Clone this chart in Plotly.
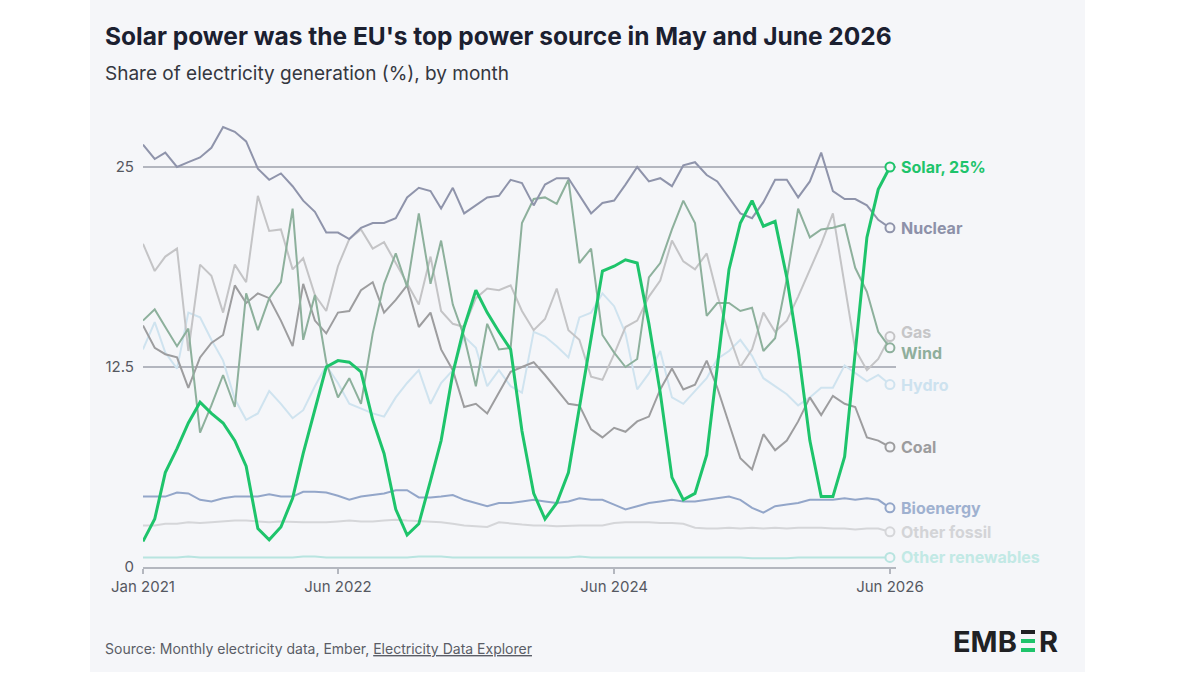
import pandas as pd
import plotly.graph_objects as go

# ---------------- data (share of EU electricity generation, %) ----------------
months = pd.date_range("2021-01-01", periods=66, freq="MS")

solar = [1.6, 3.0, 5.9, 7.4, 9.0, 10.3, 9.6, 9.0, 7.9, 6.3, 2.4, 1.7,
         2.5, 4.3, 7.1, 9.8, 12.5, 12.9, 12.8, 12.2, 9.2, 7.1, 3.6, 2.0,
         2.7, 5.4, 7.9, 12.1, 15.0, 17.3, 15.9, 14.7, 13.6, 8.5, 4.6, 3.0,
         4.0, 5.9, 10.0, 14.2, 18.5, 18.8, 19.2, 19.0, 15.2, 10.9, 5.6, 4.2,
         4.6, 7.0, 12.5, 18.6, 21.5, 22.9, 21.3, 21.6, 18.1, 13.6, 7.9, 4.4,
         4.4, 6.9, 13.4, 20.6, 23.6, 25.0]

nuclear = [26.4, 25.5, 25.9, 25.0, 25.3, 25.6, 26.2, 27.5, 27.2, 26.6, 24.9, 24.2,
           24.6, 23.8, 22.9, 22.2, 20.9, 20.9, 20.5, 21.2, 21.5, 21.5, 21.8, 23.1,
           23.7, 23.5, 22.4, 23.7, 22.1, 22.6, 23.1, 23.2, 24.2, 24.0, 22.6, 23.9,
           24.3, 24.3, 23.25, 22.1, 22.75, 22.9, 23.9, 25.0, 24.1, 24.3, 23.8, 25.1,
           25.3, 24.5, 24.1, 23.1, 22.1, 21.8, 22.8, 24.2, 24.2, 23.1, 24.1, 25.9,
           23.5, 23.0, 23.0, 22.6, 21.7, 21.2]

gas = [20.2, 18.5, 19.4, 19.9, 13.5, 18.9, 18.2, 15.9, 18.9, 17.8, 23.2, 21.0,
       21.1, 18.6, 19.3, 17.0, 16.0, 18.8, 20.5, 21.1, 19.9, 20.3, 19.0, 17.7,
       16.4, 19.4, 16.0, 15.2, 15.0, 16.8, 17.4, 17.3, 17.6, 16.0, 14.8, 15.5,
       17.4, 14.8, 14.2, 11.9, 11.7, 13.3, 15.0, 15.4, 16.9, 17.9, 20.4, 19.1,
       18.6, 19.6, 17.0, 14.5, 12.5, 13.6, 15.9, 14.7, 15.4, 16.9, 18.6, 20.2,
       22.1, 17.7, 13.6, 12.3, 13.0, 14.4]

wind = [15.4, 16.1, 15.0, 13.8, 14.9, 8.4, 10.1, 12.0, 10.0, 17.1, 14.8, 16.8,
        17.8, 22.4, 14.2, 17.0, 12.8, 10.6, 11.8, 10.2, 14.6, 17.7, 19.6, 17.5,
        22.1, 17.7, 20.4, 16.4, 14.4, 11.3, 15.2, 13.6, 13.7, 21.5, 23.0, 23.1,
        22.7, 24.2, 19.0, 19.9, 14.5, 13.4, 12.5, 13.0, 18.1, 19.0, 21.1, 22.9,
        21.5, 15.7, 16.5, 16.5, 16.0, 16.2, 13.5, 14.3, 18.0, 22.4, 20.6, 21.1,
        21.2, 21.4, 18.7, 17.2, 14.7, 13.7]

hydro = [13.6, 15.3, 13.4, 12.4, 15.9, 15.6, 14.2, 12.9, 10.5, 9.2, 9.6, 11.0,
         10.2, 9.3, 9.8, 11.3, 12.6, 11.5, 10.2, 9.9, 9.6, 9.4, 10.6, 11.5,
         12.3, 10.2, 11.5, 12.3, 14.4, 13.7, 11.3, 12.3, 11.3, 10.9, 14.7, 14.4,
         13.8, 13.1, 15.6, 15.9, 17.1, 16.3, 14.6, 11.1, 12.1, 13.5, 10.6, 10.2,
         11.0, 11.8, 13.0, 13.5, 14.2, 13.2, 11.8, 11.3, 10.8, 10.1, 10.6, 11.2,
         11.2, 12.6, 12.1, 11.6, 12.0, 11.4]

coal = [15.1, 13.7, 13.3, 13.1, 11.2, 13.1, 14.0, 14.5, 17.6, 16.5, 17.1, 16.8,
        15.4, 13.8, 17.7, 15.4, 14.6, 15.9, 16.0, 17.3, 17.8, 15.9, 16.7, 17.6,
        15.0, 15.9, 13.6, 12.3, 10.0, 10.2, 9.6, 10.9, 12.2, 12.5, 12.8, 12.0,
        11.1, 10.2, 10.1, 8.6, 8.1, 8.7, 8.45, 9.1, 9.4, 11.1, 12.4, 11.1,
        11.4, 12.9, 11.2, 9.0, 6.8, 6.1, 8.3, 7.3, 7.9, 9.1, 10.6, 9.5,
        10.7, 10.2, 10.0, 8.1, 7.9, 7.5]

bioenergy = [4.4, 4.4, 4.4, 4.65, 4.6, 4.2, 4.1, 4.3, 4.4, 4.4, 4.4, 4.55,
             4.4, 4.4, 4.7, 4.7, 4.65, 4.45, 4.2, 4.4, 4.5, 4.6, 4.8, 4.8,
             4.35, 4.35, 4.4, 4.5, 4.2, 4.0, 3.8, 4.0, 4.0, 4.1, 4.2, 4.1,
             4.0, 4.1, 4.3, 4.2, 4.2, 3.9, 3.6, 3.8, 4.0, 4.1, 4.2, 4.1,
             4.1, 4.2, 4.3, 4.4, 4.2, 3.7, 3.4, 3.8, 3.9, 4.0, 4.2, 4.2,
             4.2, 4.3, 4.2, 4.3, 4.2, 3.7]

other_fossil = [2.6, 2.6, 2.7, 2.7, 2.8, 2.75, 2.8, 2.85, 2.9, 2.9, 2.85, 2.8,
                2.85, 2.8, 2.8, 2.8, 2.8, 2.85, 2.9, 2.85, 2.85, 2.9, 2.95, 2.9,
                2.85, 2.8, 2.8, 2.7, 2.6, 2.55, 2.5, 2.8, 2.7, 2.65, 2.6, 2.6,
                2.55, 2.6, 2.6, 2.6, 2.6, 2.75, 2.8, 2.8, 2.8, 2.75, 2.75, 2.7,
                2.45, 2.4, 2.4, 2.45, 2.4, 2.45, 2.4, 2.45, 2.4, 2.45, 2.45, 2.45,
                2.4, 2.4, 2.35, 2.4, 2.4, 2.2]

other_renewables = [0.6, 0.6, 0.6, 0.6, 0.65, 0.6, 0.6, 0.6, 0.6, 0.6, 0.6, 0.6,
                    0.6, 0.6, 0.65, 0.65, 0.6, 0.6, 0.6, 0.6, 0.6, 0.6, 0.6, 0.6,
                    0.65, 0.65, 0.65, 0.6, 0.6, 0.6, 0.6, 0.6, 0.6, 0.6, 0.6, 0.6,
                    0.6, 0.6, 0.65, 0.6, 0.6, 0.6, 0.6, 0.6, 0.6, 0.6, 0.6, 0.6,
                    0.6, 0.6, 0.6, 0.6, 0.6, 0.55, 0.55, 0.55, 0.55, 0.6, 0.6, 0.6,
                    0.6, 0.6, 0.6, 0.6, 0.6, 0.6]

tick_dates = ["2021-01-01", "2022-06-01", "2024-06-01", "2026-06-01"]
tick_labels = ["Jan 2021", "Jun 2022", "Jun 2024", "Jun 2026"]
y_ticks = [0, 12.5, 25]
y_tick_labels = ["0", "12.5", "25"]

# series: (name, values, line colour, label colour, width, label text, label nudge)
series = [
    ("Other renewables", other_renewables, "#b8e4e0", "#c2e9e5", 2, "Other renewables", 0),
    ("Other fossil", other_fossil, "#d5d6d9", "#d3d4d7", 2, "Other fossil", 0),
    ("Bioenergy", bioenergy, "#93a6c9", "#9fb1d0", 2, "Bioenergy", 0),
    ("Hydro", hydro, "#cfe3ef", "#cde2ef", 2, "Hydro", 0),
    ("Gas", gas, "#c4c4c6", "#c6c6c8", 2, "Gas", 0.3),
    ("Coal", coal, "#9d9d9f", "#9c9c9e", 2, "Coal", 0),
    ("Wind", wind, "#8db09c", "#8fae9c", 2, "Wind", -0.3),
    ("Nuclear", nuclear, "#8f94ab", "#8d91a9", 2, "Nuclear", 0),
    ("Solar", solar, "#1ec46b", "#1ec46b", 3, "Solar, 25%", 0),
]

BG = "#f5f6f9"
FONT = "Inter"

# plot area in pixels
L, R, T, B = 143, 896, 119, 567


def pxx(px):
    return (px - L) / (R - L)


def pxy(py):
    return (B - py) / (B - T)


fig = go.Figure()

for name, vals, col, lcol, w, label, nudge in series:
    fig.add_trace(go.Scatter(
        x=months, y=vals, mode="lines", name=name,
        line=dict(color=col, width=w), hoverinfo="skip", showlegend=False))

for name, vals, col, lcol, w, label, nudge in series:
    fig.add_trace(go.Scatter(
        x=[months[-1]], y=[vals[-1]], mode="markers", showlegend=False,
        marker=dict(symbol="circle", size=9, color=BG,
                    line=dict(color=col, width=2)),
        hoverinfo="skip", cliponaxis=False))
    fig.add_annotation(
        x=months[-1], y=vals[-1] + nudge, xref="x", yref="y",
        text=f"<b>{label}</b>", showarrow=False, xanchor="left",
        yanchor="middle", xshift=9,
        font=dict(family=FONT, size=16, color=lcol))

# panel background
fig.add_shape(type="rect", xref="paper", yref="paper",
              x0=pxx(90), x1=pxx(1085), y0=pxy(672), y1=pxy(0),
              fillcolor=BG, line=dict(width=0), layer="below")

# titles
fig.add_annotation(xref="paper", yref="paper", x=pxx(103), y=pxy(36),
                   xanchor="left", yanchor="middle", showarrow=False,
                   text="<b>Solar power was the EU's top power source in May and June 2026</b>",
                   font=dict(family=FONT, size=24.5, color="#1b2030"))
fig.add_annotation(xref="paper", yref="paper", x=pxx(103), y=pxy(74),
                   xanchor="left", yanchor="middle", showarrow=False,
                   text="Share of electricity generation (%), by month",
                   font=dict(family=FONT, size=19, color="#34373f"))
fig.add_annotation(xref="paper", yref="paper", x=pxx(103), y=pxy(648),
                   xanchor="left", yanchor="middle", showarrow=False,
                   text="Source: Monthly electricity data, Ember, "
                        "<span style='text-decoration:underline'>Electricity Data Explorer</span>",
                   font=dict(family=FONT, size=14, color="#5a5d66"))

# EMBER logo
fig.add_annotation(xref="paper", yref="paper", x=pxx(951), y=pxy(641),
                   xanchor="left", yanchor="middle", showarrow=False,
                   text="<b>EMB</b>", font=dict(family=FONT, size=29, color="#202124"))
fig.add_annotation(xref="paper", yref="paper", x=pxx(1037), y=pxy(641),
                   xanchor="left", yanchor="middle", showarrow=False,
                   text="<b>R</b>", font=dict(family=FONT, size=29, color="#202124"))
for top, col in [(630, "#202124"), (639, "#1ec46b"), (648, "#1ec46b")]:
    fig.add_shape(type="rect", xref="paper", yref="paper",
                  x0=pxx(1021), x1=pxx(1035), y0=pxy(top + 4), y1=pxy(top),
                  fillcolor=col, line=dict(width=0))

fig.update_layout(
    width=1200, height=675,
    margin=dict(l=L, r=1200 - R, t=T, b=675 - B),
    paper_bgcolor="white", plot_bgcolor=BG,
    showlegend=False,
    xaxis=dict(
        type="date", range=["2021-01-01", "2026-06-17"],
        tickvals=tick_dates, ticktext=tick_labels,
        showgrid=False, zeroline=False,
        showline=True, linecolor="#b4b7bf", linewidth=2,
        ticks="outside", ticklen=5, tickwidth=1.5, tickcolor="#b4b7bf",
        tickfont=dict(family=FONT, size=15, color="#555861"),
    ),
    yaxis=dict(
        range=[0, 28], tickvals=y_ticks, ticktext=y_tick_labels,
        showgrid=True, gridcolor="#b3b6bf", gridwidth=1.5,
        zeroline=False, showline=False, ticks="",
        ticklabelstandoff=8,
        tickfont=dict(family=FONT, size=15, color="#555861"),
    ),
)

fig.write_html("out.html")
